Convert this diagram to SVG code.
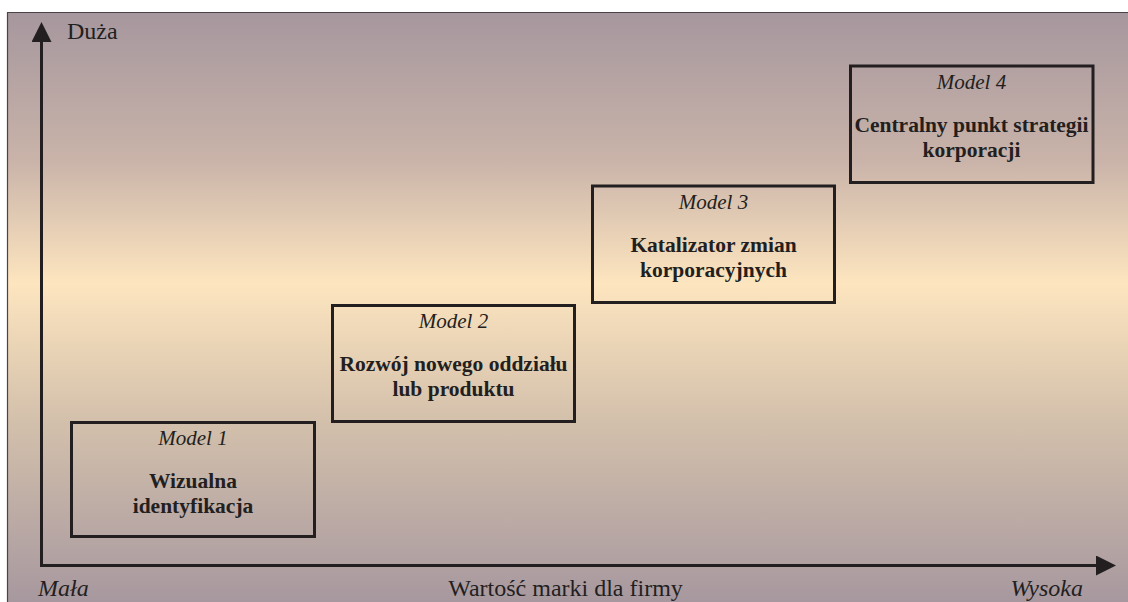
<svg xmlns="http://www.w3.org/2000/svg" width="1128" height="602" viewBox="0 0 1128 602">
<defs>
<linearGradient id="bg" x1="0" y1="12" x2="0" y2="602" gradientUnits="userSpaceOnUse">
<stop offset="0" stop-color="#a6979e"/>
<stop offset="0.25" stop-color="#c9b3a9"/>
<stop offset="0.46" stop-color="#fde5bf"/>
<stop offset="0.7" stop-color="#d2bfab"/>
<stop offset="1" stop-color="#a7989f"/>
</linearGradient>
<marker id="arr" viewBox="0 0 20 20" refX="0" refY="10" markerWidth="20" markerHeight="20" markerUnits="userSpaceOnUse" orient="auto">
<path d="M0,0 L20,10 L0,20 Z" fill="#231f20"/>
</marker>
<style>
.box{fill:none;stroke:#231f20;stroke-width:3}
.axis{stroke:#231f20;stroke-width:3;fill:none}
text{font-family:'Liberation Serif','Times New Roman',serif;fill:#231f20}
.it{font-style:italic;font-size:21px;text-anchor:middle}
.bd{font-weight:bold;font-size:21.5px;text-anchor:middle}
.lab{font-size:24px}
</style>
</defs>
<rect x="0" y="0" width="1128" height="602" fill="#ffffff"/>
<rect x="7" y="12" width="1121" height="590" fill="url(#bg)"/>
<path d="M7.5,602 L7.5,12.5 L1128,12.5" fill="none" stroke="#4a4447" stroke-width="1.2"/>
<g id="connectors">
<line class="axis" x1="41.5" y1="566" x2="41.5" y2="42" marker-end="url(#arr)"/>
<line class="axis" x1="40" y1="565.5" x2="1096" y2="565.5" marker-end="url(#arr)"/>
</g>
<g id="axis-labels">
<text class="lab" x="67" y="39">Duża</text>
<text class="lab" x="38" y="596" font-style="italic">Mała</text>
<text class="lab" x="565.5" y="596" text-anchor="middle">Wartość marki dla firmy</text>
<text class="lab" x="1083" y="596" font-style="italic" text-anchor="end">Wysoka</text>
</g>
<g id="model1">
<rect class="box" x="71.5" y="422.5" width="243" height="114"/>
<text class="it" x="193" y="445">Model 1</text>
<text class="bd" x="193" y="488">Wizualna</text>
<text class="bd" x="193" y="513">identyfikacja</text>
</g>
<g id="model2">
<rect class="box" x="332.5" y="305.5" width="242" height="116"/>
<text class="it" x="453.5" y="328">Model 2</text>
<text class="bd" x="453.5" y="371">Rozwój nowego oddziału</text>
<text class="bd" x="453.5" y="396">lub produktu</text>
</g>
<g id="model3">
<rect class="box" x="592.5" y="186" width="242" height="116.5"/>
<text class="it" x="713.5" y="209">Model 3</text>
<text class="bd" x="713.5" y="252">Katalizator zmian</text>
<text class="bd" x="713.5" y="277">korporacyjnych</text>
</g>
<g id="model4">
<rect class="box" x="850.5" y="66" width="242.5" height="116.5"/>
<text class="it" x="971.5" y="89">Model 4</text>
<text class="bd" x="971.5" y="132">Centralny punkt strategii</text>
<text class="bd" x="971.5" y="157">korporacji</text>
</g>
</svg>
